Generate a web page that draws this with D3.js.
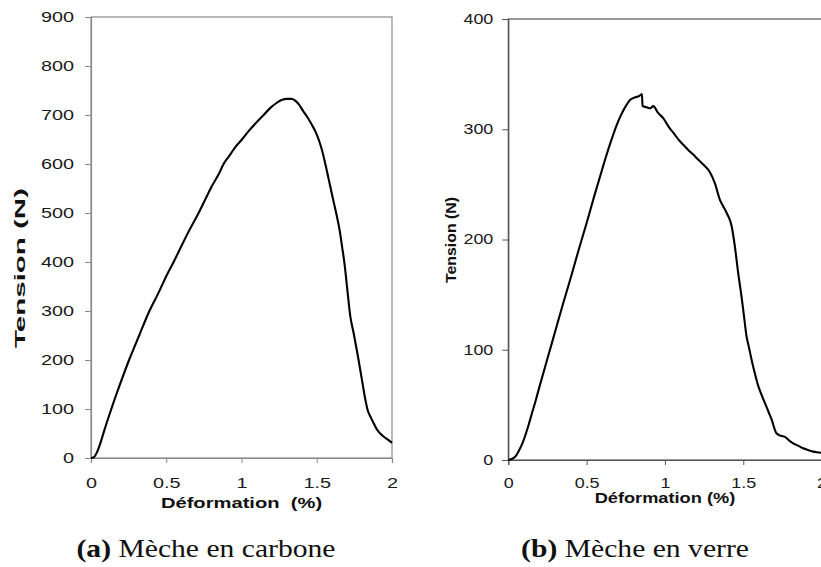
<!DOCTYPE html>
<html><head><meta charset="utf-8">
<script src="https://cdn.jsdelivr.net/npm/d3@7"></script>
<style>
body{margin:0;background:#fff;}
svg{display:block;}
text{white-space:pre;}
</style></head><body>
<svg id="c" width="821" height="567"></svg>
<script>
// ---- data ----
const carbonStrain = [0,0.02,0.04,0.062,0.09,0.135,0.19,0.253,0.32,0.388,0.45,0.50,0.549,0.60,0.65,0.715,0.76,0.80,0.85,0.881,0.92,0.96,1.003,1.05,1.10,1.147,1.19,1.23,1.27,1.30,1.33,1.355,1.38,1.41,1.435,1.46,1.49,1.515,1.535,1.56,1.59,1.61,1.634,1.652,1.668,1.685,1.70,1.723,1.745,1.775,1.80,1.823,1.84,1.856,1.88,1.90,1.944,1.975,2.0];
const carbonTension = [0,2,12,30,58,100,148,200,250,300,338,371,400,432,463,500,528,553,580,600,617,635,650,668,685,700,714,724,731,733,733,730,722,708,697,684,667,648,628,596,554,526,493,465,432,395,353,289,255,205,160,119,96,85,70,58,44,37,31];

const glassStrain = [0,0.03,0.05,0.07,0.09,0.11,0.13,0.15,0.175,0.2,0.25,0.3,0.35,0.4,0.45,0.5,0.55,0.6,0.63,0.66,0.69,0.72,0.75,0.78,0.81,0.835,0.853,0.857,0.883,0.905,0.926,0.955,0.989,1.025,1.064,1.09,1.117,1.15,1.181,1.215,1.245,1.287,1.319,1.351,1.372,1.394,1.426,1.447,1.468,1.489,1.505,1.521,1.535,1.553,1.575,1.596,1.62,1.649,1.68,1.713,1.74,1.766,1.79,1.819,1.85,1.883,1.915,1.947,1.97,2.0];
const glassTension = [0,1.5,4,9,15,23,32,42,54,67,92,117,142,166,191,215,240,264,278,291,303,313,321,327,329,330,332,321,320,319,321,315,310,302,295,290,286,281,277,272,268,261,251,236,230,224,212,193,169,148,130,112,103,91,78,67,58,48,37,24,22,21,18,15,13,10.6,9,7.6,7,6.5];

const xTickValues = [0, 0.5, 1, 1.5, 2];
const carbonYTicks = [0,100,200,300,400,500,600,700,800,900];
const glassYTicks = [0,100,200,300,400];
const xTitles = ["Déformation  (%)", "Déformation (%)"];
const yTitle = "Tension (N)";
const captionLabels = ["(a)", "(b)"];
const captionTexts = [" Mèche en carbone", " Mèche en verre"];

// ---- drawing ----
const svg = d3.select("#c");
const sans = "'Liberation Sans', Arial, sans-serif";

function stretch(sel, k) {
  sel.each(function() {
    const L = this.getComputedTextLength();
    d3.select(this).attr("textLength", L * k).attr("lengthAdjust", "spacingAndGlyphs");
  });
}

function panel(o) {
  const x = d3.scaleLinear().domain([0, 2]).range([o.x0, o.x1]);
  const y = d3.scaleLinear().domain([0, o.yMax]).range([o.y0, o.y1]);
  const g = svg.append("g");

  // frame
  g.append("rect").attr("x", o.x0).attr("y", o.y1)
    .attr("width", o.x1 - o.x0).attr("height", o.y0 - o.y1)
    .attr("fill", "none").attr("stroke", o.frame).attr("stroke-width", 1.2);

  const ya = g.append("g").attr("transform", `translate(${o.x0},0)`)
    .call(d3.axisLeft(y).tickValues(o.yTicks).tickSize(6).tickPadding(o.yPad).tickFormat(d3.format("d")));
  ya.select(".domain").attr("stroke", o.frame).attr("stroke-width", 1.2);
  ya.selectAll(".tick line").attr("stroke", o.frame);
  ya.selectAll("text").attr("font-family", sans).attr("font-size", o.fs).attr("fill", "#1a1a1a");
  stretch(ya.selectAll("text"), 1.28);

  const xa = g.append("g").attr("transform", `translate(0,${o.y0})`)
    .call(d3.axisBottom(x).tickValues(xTickValues).tickSize(5).tickPadding(o.xPad).tickFormat(d => String(d)));
  xa.select(".domain").attr("stroke", o.frame).attr("stroke-width", 1.2);
  xa.selectAll(".tick line").attr("stroke", o.frame);
  xa.selectAll("text").attr("font-family", sans).attr("font-size", o.fs).attr("fill", "#1a1a1a");
  stretch(xa.selectAll("text"), 1.28);

  // curve
  const pts = o.xs.map((v, i) => [v, o.ys[i]]);
  g.append("path").datum(pts)
    .attr("fill", "none").attr("stroke", "#000").attr("stroke-width", 2.1)
    .attr("stroke-linejoin", "round")
    .attr("d", d3.line().curve(d3.curveMonotoneX).x(d => x(d[0])).y(d => y(d[1])));

  // x title
  const xt = g.append("text").attr("x", (o.x0 + o.x1) / 2).attr("y", o.xTitleY)
    .attr("text-anchor", "middle").attr("font-family", sans).attr("font-weight", "bold")
    .attr("font-size", o.fs).attr("fill", "#111").text(o.xTitle);
  stretch(xt, 1.3);

  // y title
  g.append("text")
    .attr("transform", `translate(${o.yTitleX},${o.yTitleCY}) rotate(-90)`)
    .attr("text-anchor", "middle").attr("dy", "0.35em")
    .attr("font-family", sans).attr("font-weight", "bold")
    .attr("font-size", o.yTitleFs).attr("fill", "#111").text(yTitle)
    .attr("textLength", o.yTitleLen).attr("lengthAdjust", "spacingAndGlyphs");

  // caption
  const cap = svg.append("text")
    .attr("transform", `translate(${o.capX},557) scale(1.14,1)`)
    .attr("text-anchor", "middle")
    .attr("font-family", "'Liberation Serif', 'Times New Roman', serif")
    .attr("font-size", 26).attr("fill", "#111");
  cap.append("tspan").attr("font-weight", "bold").text(o.capLabel);
  cap.append("tspan").text(o.capText);
}

panel({
  x0: 91, x1: 392, y0: 458, y1: 17, yMax: 900, yTicks: carbonYTicks,
  xs: carbonStrain, ys: carbonTension, frame: "#8a8a8a", fs: 15.5,
  yPad: 11, xPad: 14, xTitle: xTitles[0], xTitleY: 508,
  yTitleX: 20, yTitleCY: 268, yTitleFs: 15, yTitleLen: 160,
  capX: 206, capLabel: captionLabels[0], capText: captionTexts[0]
});

panel({
  x0: 508.3, x1: 821.6, y0: 460, y1: 19, yMax: 400, yTicks: glassYTicks,
  xs: glassStrain, ys: glassTension, frame: "#555", fs: 14,
  yPad: 9, xPad: 13, xTitle: xTitles[1], xTitleY: 503,
  yTitleX: 451, yTitleCY: 240, yTitleFs: 14, yTitleLen: 86,
  capX: 635, capLabel: captionLabels[1], capText: captionTexts[1]
});
</script>
</body></html>
